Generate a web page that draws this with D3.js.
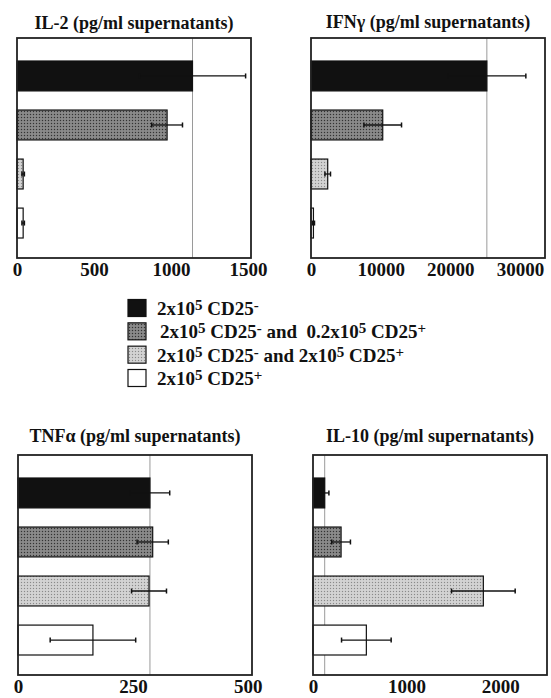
<!DOCTYPE html>
<html><head><meta charset="utf-8">
<script src="https://cdn.jsdelivr.net/npm/d3@7"></script>
<style>
html,body{margin:0;padding:0;background:#fff;}
svg{display:block;}
text{font-family:"Liberation Serif","Times New Roman",serif;font-weight:bold;fill:#111;}
</style></head>
<body>
<script>
// ---- data ----
const groups = ["CD25-", "CD25- + 0.2 CD25+", "CD25- + 2 CD25+", "CD25+"];
const il2Values  = [1140, 975, 40, 40];
const il2Errors  = [345, 100, 8, 8];
const il2Ticks   = [0, 500, 1000, 1500];
const ifnValues  = [25250, 10300, 2400, 350];
const ifnErrors  = [5600, 2700, 400, 150];
const ifnTicks   = [0, 10000, 20000, 30000];
const tnfValues  = [287, 293, 285, 163];
const tnfErrors  = [43, 34, 38, 93];
const tnfTicks   = [0, 250, 500];
const il10Values = [125, 300, 1820, 570];
const il10Errors = [45, 100, 340, 265];
const il10Ticks  = [0, 1000, 2000];
const titles = ["IL-2 (pg/ml supernatants)", "IFN\u03B3 (pg/ml supernatants)",
                "TNF\u03B1 (pg/ml supernatants)", "IL-10 (pg/ml supernatants)"];
const legendLabels = [
  [["2x10",0],["5",1],[" CD25",0],["-",1]],
  [["2x10",0],["5",1],[" CD25",0],["-",1],[" and  0.2x10",0],["5",1],[" CD25",0],["+",1]],
  [["2x10",0],["5",1],[" CD25",0],["-",1],[" and 2x10",0],["5",1],[" CD25",0],["+",1]],
  [["2x10",0],["5",1],[" CD25",0],["+",1]]
];

const W = 551, H = 698;
const svg = d3.select("body").append("svg").attr("width", W).attr("height", H);

// patterns
const defs = svg.append("defs");
function pat(id, base, dot, dot2) {
  const p = defs.append("pattern").attr("id", id).attr("patternUnits", "userSpaceOnUse")
    .attr("width", 3).attr("height", 3);
  p.append("rect").attr("width", 3).attr("height", 3).attr("fill", base);
  p.append("rect").attr("x", 0).attr("y", 0).attr("width", 1).attr("height", 1).attr("fill", dot);
  p.append("rect").attr("x", 1.5).attr("y", 1.5).attr("width", 1).attr("height", 1).attr("fill", dot2);
}
pat("darkDots", "#808080", "#333", "#a8a8a8");
pat("lightDots", "#cdcdcd", "#8a8a8a", "#e6e6e6");
const fills = ["#111", "url(#darkDots)", "url(#lightDots)", "#fff"];

const panels = [
  {x0: 17,  x1: 251, y0: 38,  y1: 258, max: 1520,  vals: il2Values,  errs: il2Errors,  ticks: il2Ticks,  title: titles[0], tb: 29},
  {x0: 311, x1: 545, y0: 38,  y1: 258, max: 33600, vals: ifnValues,  errs: ifnErrors,  ticks: ifnTicks,  title: titles[1], tb: 28},
  {x0: 18,  x1: 252, y0: 455, y1: 675, max: 509,   vals: tnfValues,  errs: tnfErrors,  ticks: tnfTicks,  title: titles[2], tb: 442},
  {x0: 313, x1: 547, y0: 455, y1: 675, max: 2500,  vals: il10Values, errs: il10Errors, ticks: il10Ticks, title: titles[3], tb: 442}
];

panels.forEach(p => {
  const g = svg.append("g");
  const x = d3.scaleLinear().domain([0, p.max]).range([p.x0, p.x1]);
  const y = d3.scaleBand().domain(groups).range([p.y0 + 23, p.y1 - 20])
    .paddingInner(0.39).paddingOuter(0);

  // title
  g.append("text").attr("x", (p.x0 + p.x1) / 2).attr("y", p.tb)
    .attr("text-anchor", "middle").attr("font-size", 18).text(p.title);

  // reference line at control value
  g.append("line").attr("x1", x(p.vals[0])).attr("x2", x(p.vals[0]))
    .attr("y1", p.y0).attr("y2", p.y1).attr("stroke", "#9a9a9a").attr("stroke-width", 1);

  // bars
  g.selectAll("rect.bar").data(groups).join("rect").attr("class", "bar")
    .attr("x", x(0)).attr("y", d => y(d))
    .attr("width", (d, i) => x(p.vals[i]) - x(0)).attr("height", y.bandwidth())
    .attr("fill", (d, i) => fills[i]).attr("stroke", "#111").attr("stroke-width", 1.2);

  // error bars
  const eg = g.selectAll("g.err").data(groups).join("g").attr("class", "err");
  eg.append("line")
    .attr("x1", (d, i) => x(p.vals[i] - p.errs[i])).attr("x2", (d, i) => x(p.vals[i] + p.errs[i]))
    .attr("y1", d => y(d) + y.bandwidth() / 2).attr("y2", d => y(d) + y.bandwidth() / 2)
    .attr("stroke", "#111").attr("stroke-width", 1.3);
  [-1, 1].forEach(s => {
    eg.append("line")
      .attr("x1", (d, i) => x(p.vals[i] + s * p.errs[i])).attr("x2", (d, i) => x(p.vals[i] + s * p.errs[i]))
      .attr("y1", d => y(d) + y.bandwidth() / 2 - 2.5).attr("y2", d => y(d) + y.bandwidth() / 2 + 2.5)
      .attr("stroke", "#111").attr("stroke-width", 1.5);
  });

  // frame
  g.append("rect").attr("x", p.x0).attr("y", p.y0).attr("width", p.x1 - p.x0).attr("height", p.y1 - p.y0)
    .attr("fill", "none").attr("stroke", "#222").attr("stroke-width", 1.8);

  // axis
  const ax = g.append("g").attr("transform", `translate(0,${p.y1})`)
    .call(d3.axisBottom(x).tickValues(p.ticks).tickFormat(d3.format("d")).tickSize(0).tickPadding(5));
  ax.select(".domain").remove();
  ax.selectAll("text").attr("font-size", 19).attr("font-family", null).attr("fill", "#111")
    .attr("dy", "0.71em");
});

// legend
const lg = svg.append("g");
const ly = d3.scalePoint().domain(d3.range(4)).range([308, 378]);
lg.selectAll("rect").data(d3.range(4)).join("rect")
  .attr("x", 128).attr("y", d => ly(d) - 8.5).attr("width", 18).attr("height", 17)
  .attr("fill", d => fills[d]).attr("stroke", "#111").attr("stroke-width", 1.2);
lg.selectAll("text").data(legendLabels).join("text")
  .attr("x", (d, i) => i === 1 ? 160 : 157).attr("y", (d, i) => ly(i) + 7)
  .attr("font-size", 19).attr("xml:space", "preserve")
  .each(function(parts) {
    const t = d3.select(this);
    let sup = false;
    parts.forEach(([s, isSup]) => {
      const ts = t.append("tspan").text(s);
      if (isSup && !sup) { ts.attr("dy", -5).attr("font-size", 15); sup = true; }
      else if (isSup && sup) { ts.attr("font-size", 15); }
      else if (!isSup && sup) { ts.attr("dy", 5); sup = false; }
    });
  });
</script>
</body></html>
